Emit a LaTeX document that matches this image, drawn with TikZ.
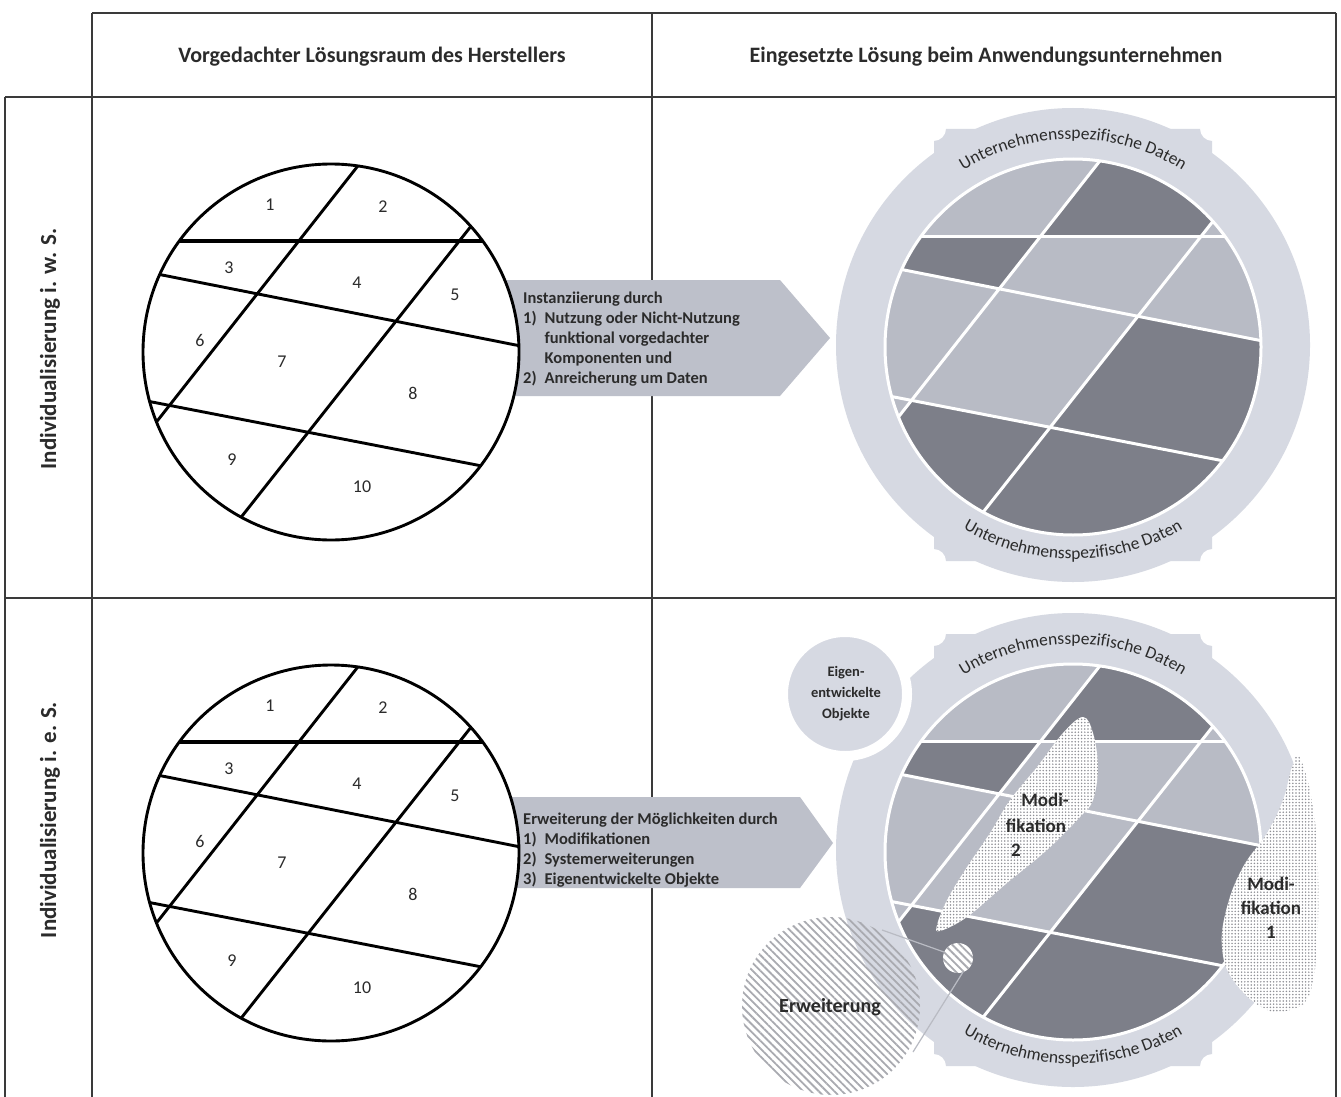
\documentclass[tikz,border=0pt]{standalone}
\usepackage{fontspec}
\setmainfont{Carlito}
\usetikzlibrary{patterns.meta,decorations.text}
\definecolor{ringc}{HTML}{D6D9E2}
\definecolor{lightt}{HTML}{B8BBC5}
\definecolor{darkt}{HTML}{7D7F89}
\definecolor{arrowc}{HTML}{BDC0CA}
\definecolor{txtc}{HTML}{2B2B2B}
\definecolor{gridc}{HTML}{3A3A3A}
\definecolor{hatchc}{HTML}{A9AAB0}
\definecolor{dotc}{HTML}{8E8F95}
\definecolor{callc}{HTML}{B9BBC3}

\newcommand\myleftcircle[1]{%
  \fill[white] (331,352) circle[radius=188];
  \begin{scope}
    \clip (331,352) circle[radius=188];
    \draw[line width=3.8pt] (100,241) -- (600,241);
    \draw[line width=2.9pt] (100,262.7) -- (600,361.7);
    \draw[line width=2.9pt] (100,391.9) -- (600,488.9);
    \draw[line width=2.9pt] (409.7,100) -- (16.4,600);
    \draw[line width=2.9pt] (570.7,100) -- (175.7,600);
  \end{scope}
  \draw[line width=2.9pt] (331,352) circle[radius=188];
  \node[num] (#1n1) at (270,205) {1};
  \node[num] (#1n2) at (383,207) {2};
  \node[num] (#1n3) at (229,268) {3};
  \node[num] (#1n4) at (357,283) {4};
  \node[num] (#1n5) at (455,295) {5};
  \node[num] (#1n6) at (200,340) {6};
  \node[num] (#1n7) at (282,362) {7};
  \node[num] (#1n8) at (413,393) {8};
  \node[num] (#1n9) at (232,460) {9};
  \node[num] (#1n10) at (362,487) {10};
}

\newcommand\mysoldisk{%
  \fill[ringc] (331,350) circle[radius=237];
  \fill[ringc] (192,250) -- (192,146) .. controls (198.6,146) and (204,140.6) .. (204,134)
     -- (458,134) .. controls (458,140.6) and (463.4,146) .. (470,146) -- (470,250) -- cycle;
  \fill[ringc] (192,450) -- (192,554) .. controls (198.6,554) and (204,559.4) .. (204,566)
     -- (458,566) .. controls (458,559.4) and (463.4,554) .. (470,554) -- (470,450) -- cycle;
  \fill[lightt] (331,352) circle[radius=188];
  \begin{scope}
    \clip (331,352) circle[radius=188];
    \fill[darkt] (409.7,100) -- (570.7,100) -- (459.3,241) -- (298.8,241) -- cycle;
    \fill[darkt] (100,241) -- (298.8,241) -- (257.2,293.85) -- (100,262.7) -- cycle;
    \fill[darkt] (395.9,321.3) -- (600,361.7) -- (600,488.9) -- (308.2,432.3) -- cycle;
    \fill[darkt] (169.5,405.39) -- (600,488.9) -- (600,600) -- (16.4,600) -- cycle;
    \draw[wline] (100,241) -- (600,241);
    \draw[wline] (100,262.7) -- (600,361.7);
    \draw[wline] (100,391.9) -- (600,488.9);
    \draw[wline] (409.7,100) -- (16.4,600);
    \draw[wline] (570.7,100) -- (175.7,600);
  \end{scope}
  \draw[wline] (331,352) circle[radius=188];
  \path[decorate, decoration={text along path, text align=center,
     text={|\fontsize{17.5}{17.5}\selectfont\color{txtc}|Unternehmensspezifische Daten}}]
     ([shift={(331,350)}]-160:206) arc[start angle=-160, end angle=-20, radius=206];
  \path[decorate, decoration={text along path, text align=center,
     text={|\fontsize{17.5}{17.5}\selectfont\color{txtc}|Unternehmensspezifische Daten}}]
     ([shift={(331,350)}]160:214) arc[start angle=160, end angle=20, radius=214];
}

\begin{document}
\begin{tikzpicture}[x=1pt,y=-1pt,
  gridline/.style={draw=gridc, line width=2pt},
  wline/.style={draw=white, line width=3pt},
  num/.style={font=\fontsize{18}{18}\selectfont, text=txtc, inner sep=0pt},
  hdr/.style={font=\fontsize{22}{22}\selectfont\bfseries, text=txtc, inner sep=0pt},
  lab/.style={font=\fontsize{23}{23}\selectfont\bfseries, text=txtc, inner sep=0pt, rotate=90},
  arrtxt/.style={font=\fontsize{16.5}{20}\selectfont\bfseries, text=txtc, align=left, inner sep=0pt},
  modtxt/.style={font=\fontsize{19}{24}\selectfont\bfseries, text=txtc, align=center, inner sep=0pt},
  arrowshape/.style={fill=arrowc}]
\useasboundingbox (0,0) rectangle (1341,1097);
\fill[white] (0,0) rectangle (1341,1097);

% grid
\coordinate (g1) at (92,13);
\coordinate (g2) at (1336,13);
\coordinate (g3) at (5,97);
\coordinate (g4) at (1336,97);
\coordinate (g5) at (5,598);
\coordinate (g6) at (1336,598);
\coordinate (g7) at (5,1097);
\coordinate (g8) at (92,1097);
\coordinate (g9) at (652,13);
\coordinate (g10) at (652,1097);
\coordinate (g11) at (1336,1097);
\draw[gridline] (g1) -- (g2);
\draw[gridline] (g3) -- (g4);
\draw[gridline] (g5) -- (g6);
\draw[gridline] (g3) -- (g7);
\draw[gridline] (g1) -- (g8);
\draw[gridline] (g9) -- (g10);
\draw[gridline] (g2) -- (g11);

\node[hdr] (h1) at (372,57) {Vorgedachter Lösungsraum des Herstellers};
\node[hdr] (h2) at (986,57) {Eingesetzte Lösung beim Anwendungsunternehmen};
\node[lab] (r1) at (50,349) {Individualisierung i. w. S.};
\node[lab] (r2) at (50,820) {Individualisierung i. e. S.};

% arrows
\fill[arrowshape] (500,280) -- (780,280) -- (830,338) -- (780,396) -- (500,396) -- cycle;
\fill[arrowshape] (500,797) -- (800,797) -- (833,843) -- (800,888) -- (500,888) -- cycle;

% left circles
\myleftcircle{a}
\begin{scope}[shift={(0,501)}]
\myleftcircle{b}
\end{scope}

\node[arrtxt, anchor=north west] (t1) at (523,292) {Instanziierung durch\\
\makebox[1.3em][l]{1)}Nutzung oder Nicht-Nutzung\\
\hspace*{1.3em}funktional vorgedachter\\
\hspace*{1.3em}Komponenten und\\
\makebox[1.3em][l]{2)}Anreicherung um Daten};
\node[arrtxt, anchor=north west] (t2) at (523,813) {Erweiterung der Möglichkeiten durch\\
\makebox[1.3em][l]{1)}Modifikationen\\
\makebox[1.3em][l]{2)}Systemerweiterungen\\
\makebox[1.3em][l]{3)}Eigenentwickelte Objekte};

% right disks
\begin{scope}[shift={(742,-5)}]
\mysoldisk
\end{scope}
\begin{scope}[shift={(742,500)}]
\mysoldisk
\end{scope}

% row 2 extras
\fill[ringc, draw=white, line width=10pt] (845,694) circle[radius=62];
\node[font=\fontsize{14.5}{21}\selectfont\bfseries, text=txtc, align=center, inner sep=0pt] (eig) at (846,694) {Eigen-\\entwickelte\\Objekte};

\fill[white] plot[smooth cycle, tension=0.7] coordinates {(1300,758) (1313,807) (1318,873) (1317,940) (1310,993) (1290,1010) (1263,1008) (1233,980) (1222,947) (1227,907) (1243,867) (1267,833) (1283,800) (1292,767)};
\path[pattern={Dots[radius=0.85pt,distance=3.2pt]}, pattern color=dotc] plot[smooth cycle, tension=0.7] coordinates {(1300,758) (1313,807) (1318,873) (1317,940) (1310,993) (1290,1010) (1263,1008) (1233,980) (1222,947) (1227,907) (1243,867) (1267,833) (1283,800) (1292,767)};

\fill[white] plot[smooth cycle, tension=0.6] coordinates {(1083,717) (1093,733) (1098,767) (1093,800) (1080,817) (1047,850) (1007,883) (967,917) (940,931) (937,925) (947,900) (967,867) (990,833) (1010,800) (1037,767) (1063,733)};
\path[pattern={Dots[radius=0.85pt,distance=3.2pt]}, pattern color=dotc] plot[smooth cycle, tension=0.6] coordinates {(1083,717) (1093,733) (1098,767) (1093,800) (1080,817) (1047,850) (1007,883) (967,917) (940,931) (937,925) (947,900) (967,867) (990,833) (1010,800) (1037,767) (1063,733)};

\node[modtxt] (m2a) at (1045,800) {Modi-};
\node[modtxt] (m2b) at (1036,826) {fikation};
\node[modtxt] (m2c) at (1016,850) {2};
\node[modtxt] (m1) at (1271,908) {Modi-\\fikation\\1};

% Erweiterung
\path[pattern={Lines[angle=-45,distance=5.5pt,line width=1.8pt]}, pattern color=hatchc] (831,1006) circle[radius=89];
\fill[white] (958,958) circle[radius=15];
\path[pattern={Lines[angle=-45,distance=5.5pt,line width=1.8pt]}, pattern color=hatchc] (958,958) circle[radius=15];
\coordinate (c1) at (882,930);
\coordinate (c2) at (944,952);
\coordinate (c3) at (963,972);
\coordinate (c4) at (913,1052);
\draw[callc, line width=1.2pt] (c1) -- (c2);
\draw[callc, line width=1.2pt] (c3) -- (c4);
\node[font=\fontsize{20}{20}\selectfont\bfseries, text=txtc, inner sep=0pt] (erw) at (830,1007) {Erweiterung};
\end{tikzpicture}
\end{document}
